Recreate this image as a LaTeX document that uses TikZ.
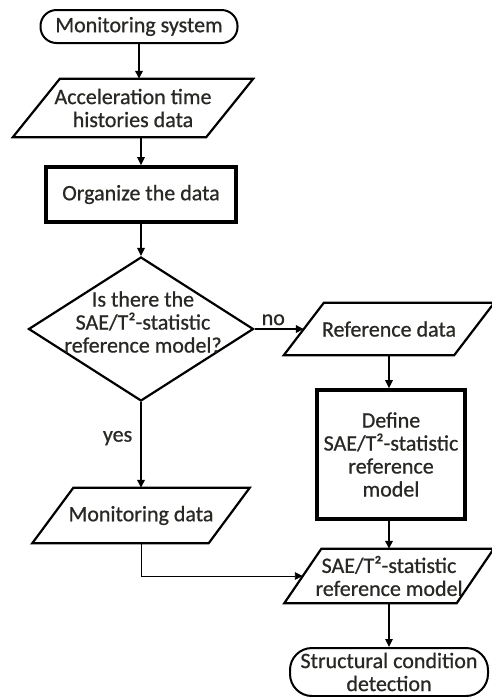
\documentclass[tikz,border=0pt]{standalone}
\usepackage{fontspec}
\setmainfont{Carlito}[RawFeature={embolden=0.7}]
\usetikzlibrary{shapes.geometric,arrows.meta,calc}
\definecolor{txt}{RGB}{40,40,36}
\newcommand\drawpara[2]{\draw[pline] ($(#1.north west)+(#2/2,0)$) -- ($(#1.north east)+(#2/2,0)$) -- ($(#1.south east)-(#2/2,0)$) -- ($(#1.south west)-(#2/2,0)$) -- cycle;}
\begin{document}
\begin{tikzpicture}[x=1pt,y=-1pt,
  font=\fontsize{22pt}{23pt}\selectfont,
  plain/.style={text=txt,align=center,inner sep=0pt},
  paranode/.style={plain},
  pline/.style={line width=2.2pt,line join=miter},
  term/.style={plain,draw=black,line width=2pt},
  procbox/.style={plain,draw=black,line width=3.6pt},
  arr/.style={-{Triangle[length=8pt,width=7.5pt]},line width=1.6pt},
  thinarr/.style={-{Triangle[length=8pt,width=7.5pt]},line width=0.9pt}]
\useasboundingbox (0,0) rectangle (491,697);

\node (ms) [term,rounded corners=16pt,minimum width=197pt,minimum height=33pt] at (139,26.5) {Monitoring system};
\node (acc) [paranode,minimum width=193pt,minimum height=58pt] at (133,108) {Acceleration time\\histories data};
\drawpara{acc}{47}
\node (org) [procbox,minimum width=190pt,minimum height=55pt] at (141,194.5) {Organize the data};
\node (dia) [diamond,draw=black,line width=2.2pt,minimum width=225pt,minimum height=144pt,inner sep=0pt] at (141,329) {};
\node (diat) [plain] at (143,322) {Is there the\\SAE/T²-statistic\\reference model?};
\node (ref) [paranode,minimum width=170pt,minimum height=52pt] at (389,329) {Reference data};
\drawpara{ref}{40}
\node (def) [procbox,minimum width=148pt,minimum height=129pt] at (391,454.5) {Define\\SAE/T²-statistic\\reference\\model};
\node (md) [paranode,minimum width=176pt,minimum height=55pt] at (141,515.5) {Monitoring data};
\drawpara{md}{41}
\node (sae) [paranode,minimum width=172pt,minimum height=54pt] at (389,576) {SAE/T²-statistic\\reference model};
\drawpara{sae}{37}
\node (sc) [term,rounded corners=22pt,minimum width=198pt,minimum height=48pt] at (389,672) {Structural condition\\detection};

\draw[arr] (ms.south) -- (ms.south |- acc.north);
\draw[arr] (org.north |- acc.south) -- (org.north);
\draw[arr] (org.south) -- (dia.north);
\draw[arr] (dia.south) -- (md.north) node[pos=0.42,left=8pt,plain] {yes};
\draw[arr] (dia.east) -- (ref.west) node[pos=0.38,above=3pt,plain] {no};
\draw[arr] (ref.south) -- (ref.south |- def.north);
\draw[arr] (sae.north |- def.south) -- (sae.north);
\draw[arr] (sae.south) -- (sc.north);
\draw[thinarr] (md.south) |- (sae.west);
\end{tikzpicture}
\end{document}
